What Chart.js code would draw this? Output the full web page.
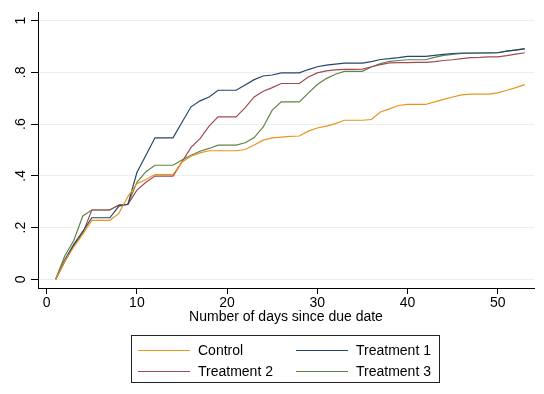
<!DOCTYPE html>
<html>
<head>
<meta charset="utf-8">
<script src="https://cdn.jsdelivr.net/npm/chart.js@4"></script>
<style>
  body { margin: 0; background: #fff; }
  #wrap { position: relative; width: 544px; height: 394px; }
  #legend {
    position: absolute; left: 131px; top: 335px; width: 309px; height: 48px;
    border: 1px solid #222; box-sizing: border-box;
    font-family: "Liberation Sans", Arial, sans-serif; font-size: 14px; color: #000;
  }
  .item { position: absolute; height: 16px; line-height: 16px; white-space: nowrap; }
  .item span.swatch { position: absolute; left: 0; top: 8px; width: 52px; height: 1px; }
  .item span.label { position: absolute; left: 60px; top: 0; }
</style>
</head>
<body>
<div id="wrap">
  <canvas id="chart" width="544" height="394"></canvas>
  <div id="legend"></div>
</div>
<script>
const days = [];
for (let d = 1; d <= 53; d++) days.push(d);

const seriesNames = ["Control", "Treatment 1", "Treatment 2", "Treatment 3"];
const seriesColors = ["#e8951c", "#24476b", "#a04a55", "#628447"];

const control = [0, .07, .125, .175, .228, .228, .228, .255, .32, .37,
  .386, .405, .405, .405, .454, .476, .489, .497, .497, .497,
  .497, .502, .519, .538, .547, .55, .553, .554, .573, .585,
  .592, .602, .615, .615, .615, .618, .647, .659, .672, .676,
  .676, .676, .686, .696, .705, .713, .716, .716, .716, .721,
  .731, .741, .753];
const treatment1 = [0, .075, .135, .185, .238, .238, .238, .283, .29, .413,
  .48, .547, .547, .547, .607, .667, .69, .705, .731, .731,
  .731, .751, .772, .786, .79, .798, .798, .798, .811, .822,
  .828, .832, .836, .836, .836, .842, .85, .853, .857, .862,
  .862, .862, .866, .87, .873, .875, .875, .875, .875, .876,
  .882, .886, .891];
const treatment2 = [0, .068, .13, .178, .268, .268, .268, .287, .29, .345,
  .375, .399, .399, .399, .454, .51, .544, .592, .628, .628,
  .628, .664, .705, .727, .741, .757, .757, .757, .782, .798,
  .806, .81, .812, .812, .813, .822, .83, .837, .838, .838,
  .839, .839, .842, .846, .849, .853, .857, .858, .86, .86,
  .865, .871, .876];
const treatment3 = [0, .09, .15, .245, .268, .268, .268, .287, .29, .375,
  .416, .441, .441, .441, .461, .48, .495, .506, .519, .519,
  .519, .528, .548, .589, .654, .686, .686, .686, .72, .753,
  .776, .793, .804, .804, .804, .821, .834, .843, .846, .849,
  .849, .849, .858, .866, .87, .873, .874, .875, .876, .876,
  .882, .887, .892];

const xTickValues = [0, 10, 20, 30, 40, 50];
const yTickValues = [0, .2, .4, .6, .8, 1];
const yTickLabels = ["0", ".2", ".4", ".6", ".8", "1"];

const allSeries = [control, treatment1, treatment2, treatment3];
const font = { family: '"Liberation Sans", Arial, sans-serif', size: 14 };

const chart = new Chart(document.getElementById("chart"), {
  type: 'line',
  data: {
    datasets: allSeries.map((vals, i) => ({
      label: seriesNames[i],
      data: vals.map((v, j) => ({ x: days[j], y: v })),
      borderColor: seriesColors[i],
      borderWidth: 1.2,
      pointRadius: 0,
      tension: 0,
      fill: false
    }))
  },
  options: {
    responsive: false,
    animation: false,
    layout: { padding: { left: 0, top: 12, right: 10, bottom: 64 } },
    plugins: { legend: { display: false }, tooltip: { enabled: false } },
    scales: {
      x: {
        type: 'linear',
        min: -0.964,
        max: 54.02,
        afterBuildTicks: s => { s.ticks = xTickValues.map(v => ({ value: v })); },
        afterFit: s => { s.height = 42; },
        grid: { drawOnChartArea: false, tickLength: 6, tickColor: '#000' },
        border: { color: '#000', width: 1 },
        ticks: { color: '#000', font: font, padding: 1, maxRotation: 0 },
        title: {
          display: true,
          text: 'Number of days since due date',
          color: '#000',
          font: font,
          padding: { top: 0, bottom: 4 }
        }
      },
      y: {
        min: -0.0336,
        max: 1.032,
        afterBuildTicks: s => { s.ticks = yTickValues.map(v => ({ value: v })); },
        afterFit: s => { s.width = 38; },
        grid: { color: '#eaf0f2', tickLength: 7, tickColor: '#000' },
        border: { color: '#000', width: 1 },
        ticks: {
          color: '#000',
          font: font,
          padding: 4,
          minRotation: 90,
          maxRotation: 90,
          crossAlign: 'center',
          callback: (v, i) => yTickLabels[i]
        }
      }
    }
  }
});

// legend laid out like the Stata 2-column key
const legend = document.getElementById("legend");
chart.data.datasets.forEach((ds, i) => {
  const item = document.createElement("div");
  item.className = "item";
  item.style.left = (i % 2 === 0 ? 6 : 164) + "px";
  item.style.top = (i < 2 ? 6 : 27) + "px";
  const sw = document.createElement("span");
  sw.className = "swatch";
  sw.style.background = ds.borderColor;
  const lb = document.createElement("span");
  lb.className = "label";
  lb.textContent = ds.label;
  item.appendChild(sw);
  item.appendChild(lb);
  legend.appendChild(item);
});
</script>
</body>
</html>
